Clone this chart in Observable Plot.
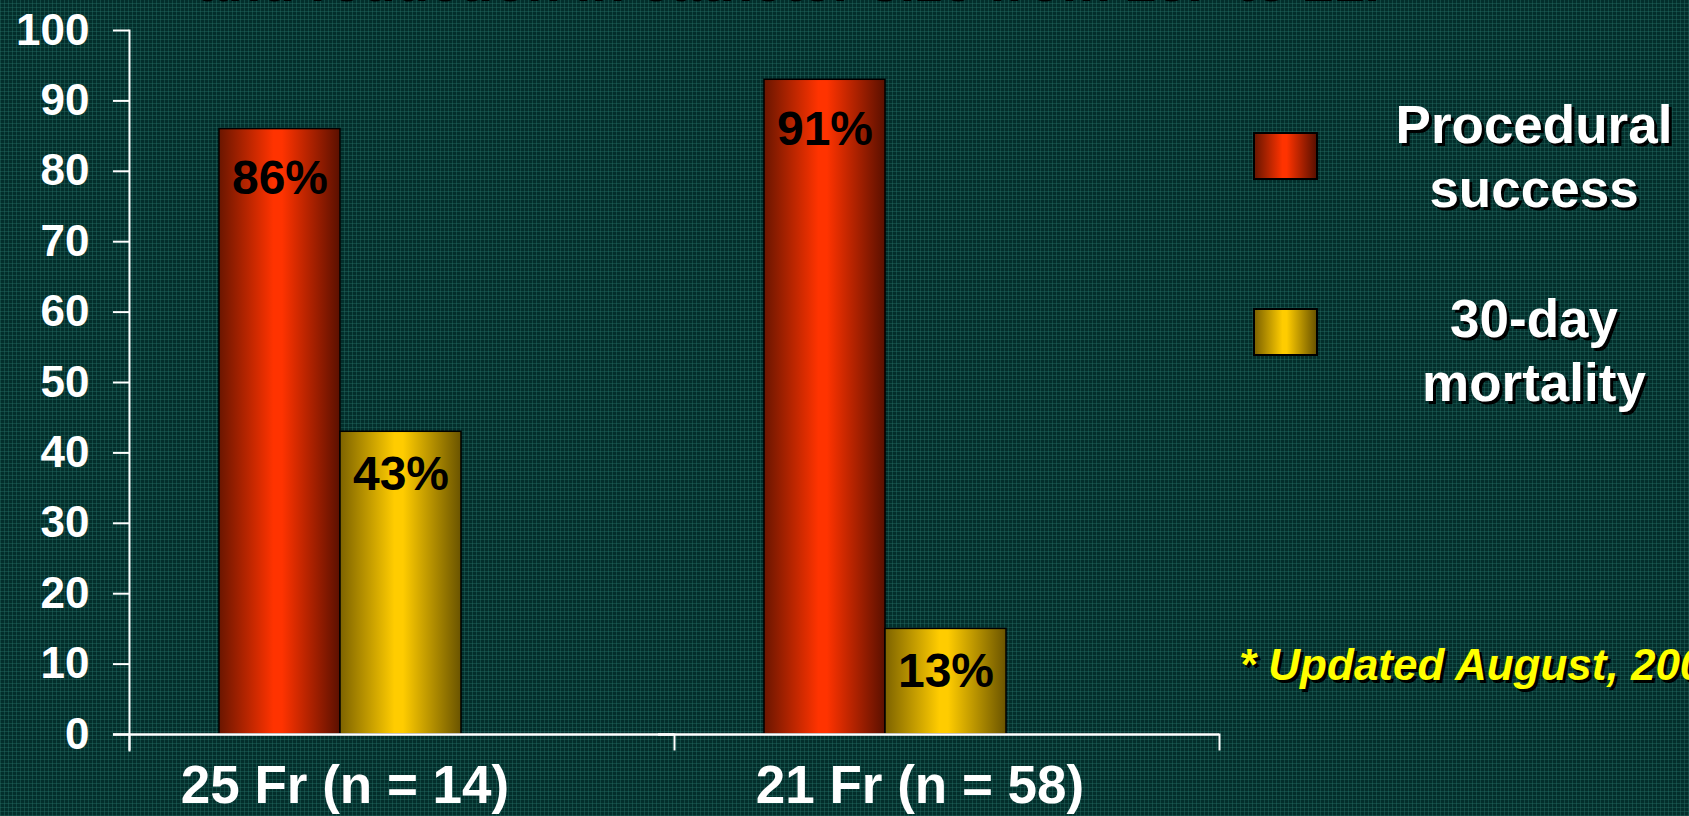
<!DOCTYPE html>
<html>
<head>
<meta charset="utf-8">
<script src="https://cdn.jsdelivr.net/npm/d3@7"></script>
<script src="https://cdn.jsdelivr.net/npm/@observablehq/plot@0.6"></script>
<style>
html, body { margin: 0; padding: 0; width: 1689px; height: 816px; overflow: hidden; }
body {
  position: relative;
  background-color: #032e2b;
  background-image:
    repeating-linear-gradient(0deg, rgba(40,115,105,0.38) 0 1px, transparent 1px 4px),
    repeating-linear-gradient(90deg, rgba(40,115,105,0.38) 0 1px, transparent 1px 4px);
  font-family: "Liberation Sans", Arial, sans-serif;
}
#chart { position: absolute; left: 0; top: 0; }
#title { position: absolute; left: -47px; width: 1689px; top: -45px; text-align: center;
  font-size: 55px; line-height: 55px; font-weight: bold; color: #000; white-space: nowrap; }
.legend-swatch { position: absolute; left: 1253px; width: 61px; height: 44px; border: 2px solid #000; }
.legend-text { position: absolute; left: 1334px; width: 400px; text-align: center; color: #fff;
  font-size: 53px; line-height: 64px; font-weight: bold; text-shadow: 3px 3px 0 #000; }
#note { position: absolute; left: 1239px; top: 643px; font-size: 44px; line-height: 44px;
  font-weight: bold; font-style: italic; color: #ffff00; white-space: nowrap; text-shadow: 3px 3px 0 #000; }
svg g[aria-label="text"][fill="white"] { filter: drop-shadow(3px 3px 0 #000); }
</style>
</head>
<body>
<div id="title">and reduction in catheter size from 25F to 21F</div>
<div id="chart"></div>
<div class="legend-swatch" style="top:132px;background:linear-gradient(90deg,#6a1600,#ff3300 45%,#ff3300 52%,#5a1000);"></div>
<div class="legend-swatch" style="top:308px;background:linear-gradient(90deg,#7d6300,#ffcc00 45%,#ffcc00 52%,#6a5400);"></div>
<div class="legend-text" style="top:93px;">Procedural<br>success</div>
<div class="legend-text" style="top:287px;">30-day<br>mortality</div>
<div id="note">* Updated August, 2003</div>
<script>
const groups = ["25 Fr (n = 14)", "21 Fr (n = 58)"];
const series = ["Procedural success", "30-day mortality"];
const successValues = [86, 93];
const mortalityValues = [43, 15];
const successLabels = ["86%", "91%"];
const mortalityLabels = ["43%", "13%"];
const yTicks = [0, 10, 20, 30, 40, 50, 60, 70, 80, 90, 100];

const rows = groups.flatMap((g, i) => [
  {group: g, series: series[0], value: successValues[i], label: successLabels[i]},
  {group: g, series: series[1], value: mortalityValues[i], label: mortalityLabels[i]}
]);

const labelFont = {fontSize: 53, fontWeight: "bold", fill: "white", frameAnchor: "bottom", lineAnchor: "bottom", dy: 68};
const valueFont = {fx: "group", x: "series", y: "value", text: "label", lineAnchor: "top", fontSize: 48, fontWeight: "bold", fill: "black"};

const svg = Plot.plot({
  width: 1689,
  height: 816,
  marginLeft: 129,
  marginRight: 470,
  marginTop: 30,
  marginBottom: 82,
  style: {background: "transparent", fontFamily: "'Liberation Sans', Arial, sans-serif", overflow: "visible"},
  fx: {domain: groups, paddingInner: 0, paddingOuter: 0, axis: null, label: null},
  x: {domain: series, paddingInner: 0, paddingOuter: 1.252, align: 0.297, axis: null, label: null},
  y: {domain: [0, 100], label: null},
  color: {domain: series, range: ["url(#gradRed)", "url(#gradYellow)"]},
  marks: [
    Plot.axisY({ticks: yTicks, tickSize: 16, tickPadding: 24, fontSize: 44, fontWeight: "bold",
      stroke: "white", fill: "white", strokeWidth: 2, label: null, tickFormat: d => String(d)}),
    Plot.barY(rows, {fx: "group", x: "series", y: "value", fill: "series", stroke: "black", strokeWidth: 1.5}),
    Plot.text(rows.filter(d => d.series === series[0]), {...valueFont, dy: 31}),
    Plot.text(rows.filter(d => d.series === series[1]), {...valueFont, dy: 24}),
    Plot.ruleY([0], {stroke: "white", strokeWidth: 2.5, insetLeft: -16}),
    Plot.frame({anchor: "left", facetAnchor: "left", stroke: "white", strokeWidth: 2, insetBottom: -16}),
    Plot.frame({anchor: "left", stroke: "white", strokeWidth: 2, insetTop: 704, insetBottom: -15}),
    Plot.frame({anchor: "right", facetAnchor: "right", stroke: "white", strokeWidth: 2, insetTop: 704, insetBottom: -15}),
    Plot.text([groups[0]], {fx: d => d, text: d => d, dx: -57, ...labelFont}),
    Plot.text([groups[1]], {fx: d => d, text: d => d, dx: -27, ...labelFont})
  ]
});

const defs = d3.select(svg).insert("defs", ":first-child");
function grad(id, edgeL, mid, edgeR) {
  const g = defs.append("linearGradient").attr("id", id).attr("x1", 0).attr("x2", 1).attr("y1", 0).attr("y2", 0);
  g.append("stop").attr("offset", "0%").attr("stop-color", edgeL);
  g.append("stop").attr("offset", "45%").attr("stop-color", mid);
  g.append("stop").attr("offset", "52%").attr("stop-color", mid);
  g.append("stop").attr("offset", "100%").attr("stop-color", edgeR);
}
grad("gradRed", "#6a1600", "#ff3300", "#5a1000");
grad("gradYellow", "#7d6300", "#ffcc00", "#6a5400");

document.getElementById("chart").appendChild(svg);
</script>
</body>
</html>
